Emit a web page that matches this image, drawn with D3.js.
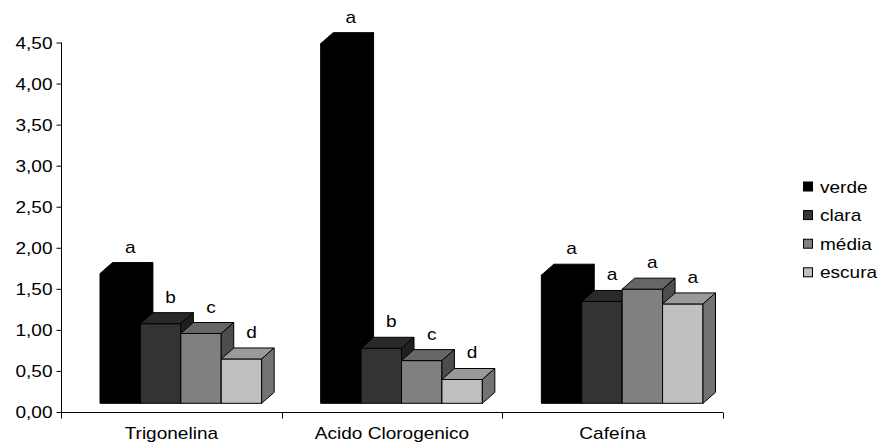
<!DOCTYPE html>
<html>
<head>
<meta charset="utf-8">
<script src="https://cdn.jsdelivr.net/npm/d3@7"></script>
<style>
  html, body { margin: 0; padding: 0; background: #fff; }
  svg text { font-family: "Liberation Sans", Arial, sans-serif; fill: #000; }
</style>
</head>
<body>
<svg id="chart" width="880" height="444"></svg>
<script>
// Categories (compounds) and roasting degrees
const categories = ["Trigonelina", "Acido Clorogenico", "Cafeína"];
const series = ["verde", "clara", "média", "escura"];

// Values per series, in category order
const verde  = [1.58, 4.38, 1.56];
const clara  = [0.97, 0.67, 1.24];
const media  = [0.85, 0.52, 1.39];
const escura = [0.54, 0.29, 1.21];

// Significance letters per series, in category order
const lettersVerde  = ["a", "a", "a"];
const lettersClara  = ["b", "b", "a"];
const lettersMedia  = ["c", "c", "a"];
const lettersEscura = ["d", "d", "a"];

const yTicks = [0, 0.5, 1, 1.5, 2, 2.5, 3, 3.5, 4, 4.5];
const seriesColors = ["#000000", "#333333", "#808080", "#c0c0c0"];

const values = [verde, clara, media, escura];
const letters = [lettersVerde, lettersClara, lettersMedia, lettersEscura];

const svg = d3.select("#chart");

// Text is set slightly wide
const WIDE = 1.12;
function wideText(sel, px, py) {
  return sel.attr("transform", `translate(${px},${py}) scale(${WIDE},1)`).attr("x", 0).attr("y", 0);
}

const x = d3.scaleBand().domain(categories).range([61, 723]).paddingInner(0).paddingOuter(0);
const xs = d3.scaleBand().domain(series).range([0, x.bandwidth()]).paddingInner(0).paddingOuter(0.73);
const y = d3.scaleLinear().domain([0, 4.5]).range([412, 42.5]);

// 3D look: bars stand slightly back on the floor and have a depth
const floorDx = 9.5, floorDy = -8.7;
const depthX = 12.5, depthY = 11;

const fmt = d => d.toFixed(2).replace(".", ",");

// Value axis
const yAxis = d3.axisLeft(y).tickValues(yTicks).tickSize(5).tickPadding(4).tickFormat(fmt);
const gy = svg.append("g").attr("transform", "translate(61.5,0)").call(yAxis);
gy.select(".domain").attr("d", `M0,${y(4.5)}V${y(0) + 6}`).attr("stroke", "#000");
gy.selectAll(".tick line").attr("stroke", "#000");
gy.selectAll(".tick text")
  .style("font-size", "17px")
  .style("font-family", "Liberation Sans, Arial, sans-serif")
  .attr("fill", "#000")
  .attr("dy", null)
  .attr("dominant-baseline", "central")
  .attr("transform", `translate(-9,0) scale(${WIDE},1)`)
  .attr("x", 0);

// Category axis
const gx = svg.append("g").attr("transform", `translate(0,${y(0) + 0.5})`);
gx.append("line").attr("x1", 61).attr("x2", 723).attr("stroke", "#000");
const bounds = categories.map(c => x(c) + x.bandwidth()).concat([x(categories[0])]);
gx.selectAll("line.tk").data(bounds).join("line").attr("class", "tk")
  .attr("x1", d => Math.round(d) + 0.5).attr("x2", d => Math.round(d) + 0.5)
  .attr("y1", 0).attr("y2", 6).attr("stroke", "#000");
gx.selectAll("text").data(categories).join("text")
  .each(function (d) { wideText(d3.select(this), x(d) + x.bandwidth() / 2, 26); })
  .attr("text-anchor", "middle")
  .style("font-size", "17px")
  .text(d => d);

// Bars, drawn left to right so later ones cover earlier side faces
const shade = (c, k) => { const r = d3.rgb(c); return d3.rgb(r.r * k, r.g * k, r.b * k).formatHex(); };
const bars = svg.append("g");
categories.forEach((cat, ci) => {
  series.forEach((s, si) => {
    const v = values[si][ci];
    const x0 = x(cat) + xs(s) + floorDx;
    const x1 = x0 + xs.bandwidth();
    const yb = y(0) + floorDy;
    const yt = y(v) + floorDy;
    const col = seriesColors[si];
    const g = bars.append("g").attr("stroke", "#000").attr("stroke-width", 1).attr("stroke-linejoin", "round");
    // front face
    g.append("path").attr("d", `M${x0},${yb}V${yt}H${x1}V${yb}Z`).attr("fill", col);
    // top face
    g.append("path").attr("d", `M${x0},${yt}L${x0 + depthX},${yt - depthY}H${x1 + depthX}L${x1},${yt}Z`).attr("fill", shade(col, 0.8));
    // side face
    g.append("path").attr("d", `M${x1},${yt}L${x1 + depthX},${yt - depthY}V${yb - depthY}L${x1},${yb}Z`).attr("fill", shade(col, 0.6));
  });
});

// Significance letters above each bar
const lab = svg.append("g");
categories.forEach((cat, ci) => {
  series.forEach((s, si) => {
    const v = values[si][ci];
    const cx = x(cat) + xs(s) + floorDx + xs.bandwidth() / 2 + 10;
    const yt = y(v) + floorDy - depthY;
    wideText(lab.append("text"), cx, yt - 10)
      .attr("text-anchor", "middle")
      .style("font-size", "17px")
      .text(letters[si][ci]);
  });
});

// Legend
const leg = svg.append("g").attr("transform", "translate(803,0)");
series.forEach((s, i) => {
  const cy = 187 + i * 28.6;
  leg.append("rect").attr("x", 0.5).attr("y", cy - 5).attr("width", 9).attr("height", 9)
    .attr("fill", seriesColors[i]).attr("stroke", "#000");
  wideText(leg.append("text"), 17, cy + 5.5).style("font-size", "17px").text(s);
});
</script>
</body>
</html>
